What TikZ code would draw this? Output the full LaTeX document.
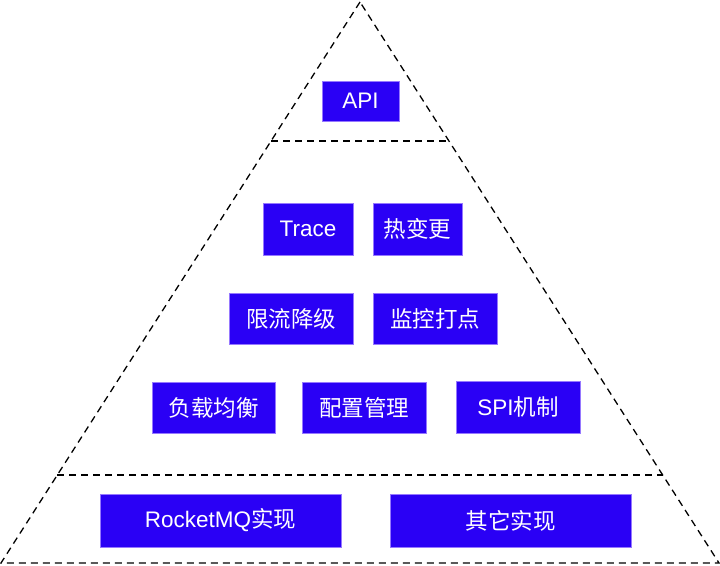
\documentclass[tikz,border=0pt]{standalone}
\usepackage{fontspec}
\newfontfamily\cjk{Noto Sans CJK SC}
\newfontfamily\lat{Liberation Sans}
\usetikzlibrary{calc}
\definecolor{boxblue}{RGB}{42,0,245}
\definecolor{boxedge}{RGB}{150,120,255}
\tikzset{
  blk/.style={fill=boxblue, draw=boxedge, line width=0.5pt, text=white, inner sep=0pt,
    font=\cjk\fontsize{22.5}{26}\selectfont, anchor=center},
  dashline/.style={draw=black, line width=1.3pt, dash pattern=on 7pt off 5pt}
}
\begin{document}
\begin{tikzpicture}[x=1pt,y=-1pt]
\useasboundingbox (0,0) rectangle (720,565);
% pyramid outline
\coordinate (apex) at (360,2);
\coordinate (bl) at (1,563);
\coordinate (br) at (719,563);
\draw[dashline] (apex) -- (bl) -- (br) -- cycle;
\coordinate (l1) at ($(apex)!0.2478!(bl)$);
\coordinate (r1) at ($(apex)!0.2478!(br)$);
\coordinate (l2) at ($(apex)!0.8431!(bl)$);
\coordinate (r2) at ($(apex)!0.8431!(br)$);
\draw[dashline] (l1) -- (r1);
\draw[dashline] (l2) -- (r2);
% boxes
\node[blk, minimum width=77pt, minimum height=40pt] (api) at (360.5,101) {\lat API};
\node[blk, minimum width=90pt, minimum height=52pt] (trace) at (308,229) {\lat Trace};
\node[blk, minimum width=89pt, minimum height=52pt] (hot) at (417.5,229) {热变更};
\node[blk, minimum width=124pt, minimum height=51pt] (limit) at (291,318.5) {限流降级};
\node[blk, minimum width=124pt, minimum height=51pt] (monitor) at (435,318.5) {监控打点};
\node[blk, minimum width=123pt, minimum height=51pt] (lb) at (213.5,407.5) {负载均衡};
\node[blk, minimum width=124pt, minimum height=51pt] (conf) at (364,407.5) {配置管理};
\node[blk, minimum width=124pt, minimum height=52pt] (spi) at (518,407) {{\lat SPI}机制};
\node[blk, minimum width=241pt, minimum height=53pt] (rmq) at (220.5,520.5) {{\lat RocketMQ}实现};
\node[blk, minimum width=241pt, minimum height=53pt] (other) at (510.5,520.5) {其它实现};
\end{tikzpicture}
\end{document}
